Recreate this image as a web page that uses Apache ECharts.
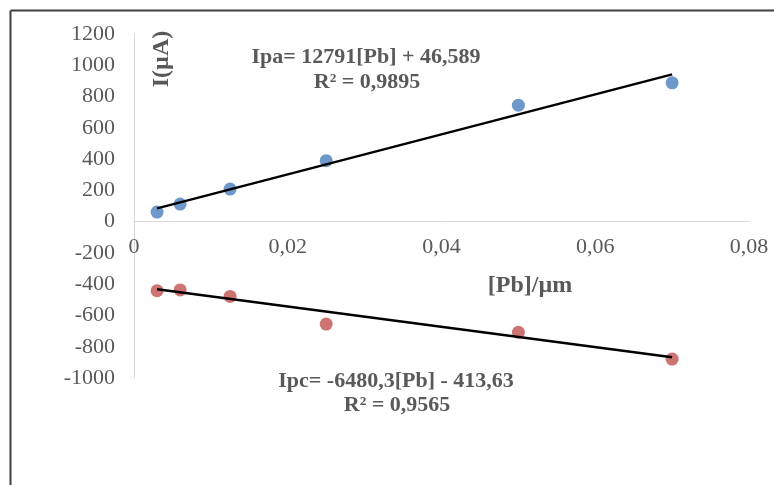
<!DOCTYPE html>
<html><head><meta charset="utf-8">
<script src="https://cdn.jsdelivr.net/npm/echarts@6/dist/echarts.min.js"></script>
<style>html,body{margin:0;padding:0;background:#fff}#c{width:774px;height:485px}</style>
</head><body><div id="c"></div>
<script>
const concentrations = [0.003, 0.006, 0.0125, 0.025, 0.05, 0.07];
const ipaValues = [61, 112, 208, 390, 745, 888];
const ipcValues = [-442, -437, -478, -655, -708, -879];
const ipaTrend = [[0.003, 84.96], [0.07, 941.96]];
const ipcTrend = [[0.003, -433.07], [0.07, -867.25]];
const yTicks = [-1000, -800, -600, -400, -200, 0, 200, 400, 600, 800, 1000, 1200];
const xTicks = [0, 0.02, 0.04, 0.06, 0.08];

const serif = '"Liberation Serif", "Times New Roman", serif';
const gray = '#595959';
const gridTop = 34, gridBottom = 107, H = 485;
const yMin = yTicks[0], yMax = yTicks[yTicks.length - 1];
const plotH = H - gridTop - gridBottom;
const zeroOffset = -plotH * (0 - yMin) / (yMax - yMin);

const chart = echarts.init(document.getElementById('c'));
chart.setOption({
  backgroundColor: '#fff',
  animation: false,
  grid: { left: 134, right: 25, top: gridTop, bottom: gridBottom, containLabel: false },
  xAxis: {
    type: 'value', min: xTicks[0], max: xTicks[xTicks.length - 1], interval: 0.02,
    position: 'bottom', offset: zeroOffset,
    axisLine: { show: true, onZero: false, lineStyle: { color: '#d9d9d9', width: 1 } },
    axisTick: { show: false },
    splitLine: { show: false },
    axisLabel: { color: gray, fontFamily: serif, fontSize: 22, margin: 15,
      formatter: v => v === 0 ? '0' : v.toFixed(2).replace('.', ',') }
  },
  yAxis: {
    type: 'value', min: yMin, max: yMax, interval: 200,
    axisLine: { show: true, onZero: false, lineStyle: { color: '#d9d9d9', width: 1 } },
    axisTick: { show: false },
    splitLine: { show: false },
    axisLabel: { color: gray, fontFamily: serif, fontSize: 22, margin: 19,
      formatter: v => String(v) }
  },
  series: [
    { type: 'scatter', data: concentrations.map((x, i) => [x, ipaValues[i]]),
      symbolSize: 13, itemStyle: { color: '#4a7ebb' }, z: 2 },
    { type: 'scatter', data: concentrations.map((x, i) => [x, ipcValues[i]]),
      symbolSize: 13, itemStyle: { color: '#c0504d' }, z: 2 },
    { type: 'line', data: ipaTrend, showSymbol: false, symbol: 'none',
      lineStyle: { color: '#000', width: 2.5 }, z: 3 },
    { type: 'line', data: ipcTrend, showSymbol: false, symbol: 'none',
      lineStyle: { color: '#000', width: 2.5 }, z: 3 }
  ],
  graphic: [
    { type: 'line', shape: { x1: 10.5, y1: 10.5, x2: 774, y2: 10.5 }, style: { stroke: '#404040', lineWidth: 2 } },
    { type: 'line', shape: { x1: 10.5, y1: 10.5, x2: 10.5, y2: 485 }, style: { stroke: '#404040', lineWidth: 2 } },
    { type: 'text', x: 162, y: 59, rotation: Math.PI / 2,
      style: { text: 'I(µA)', font: 'bold 24px ' + serif, fill: gray, align: 'center', verticalAlign: 'middle' } },
    { type: 'text', x: 530, y: 286,
      style: { text: '[Pb]/µm', font: 'bold 24px ' + serif, fill: gray, align: 'center', verticalAlign: 'middle' } },
    { type: 'text', x: 366, y: 57,
      style: { text: 'Ipa= 12791[Pb] + 46,589', font: 'bold 22px ' + serif, fill: gray, align: 'center', verticalAlign: 'middle' } },
    { type: 'text', x: 367, y: 82,
      style: { text: 'R² = 0,9895', font: 'bold 22px ' + serif, fill: gray, align: 'center', verticalAlign: 'middle' } },
    { type: 'text', x: 396, y: 381,
      style: { text: 'Ipc= -6480,3[Pb] - 413,63', font: 'bold 22px ' + serif, fill: gray, align: 'center', verticalAlign: 'middle' } },
    { type: 'text', x: 397, y: 405,
      style: { text: 'R² = 0,9565', font: 'bold 22px ' + serif, fill: gray, align: 'center', verticalAlign: 'middle' } }
  ]
});
</script></body></html>
